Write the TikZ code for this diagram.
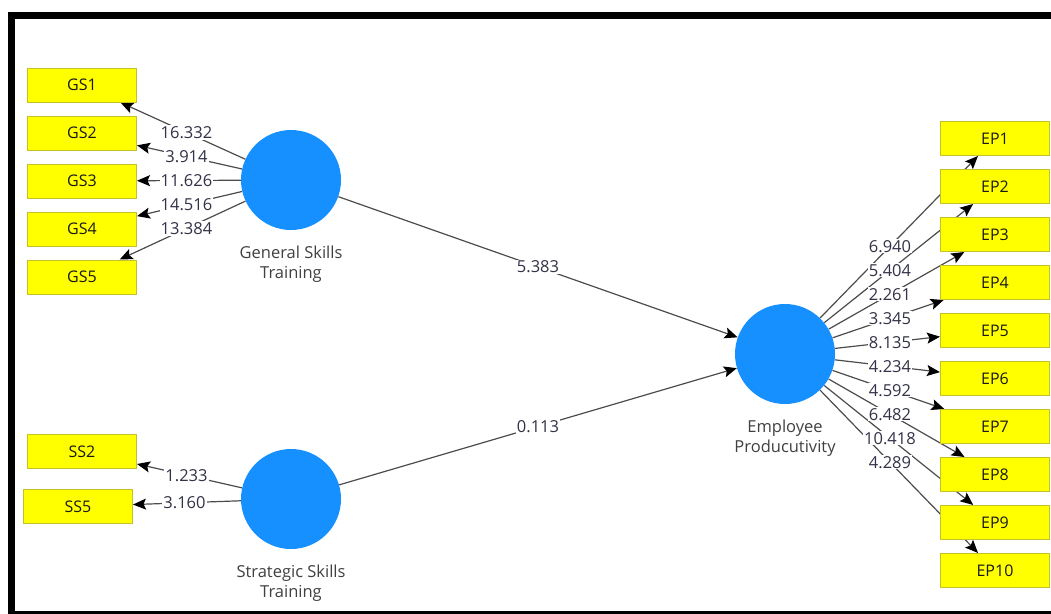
\documentclass[tikz,border=0pt]{standalone}
\usepackage{fontspec}
\setmainfont{Open Sans}
\usetikzlibrary{arrows.meta, backgrounds, calc}
\definecolor{latentblue}{RGB}{22,143,255}
\definecolor{itemyellow}{RGB}{255,255,0}
\definecolor{itemedge}{RGB}{195,195,40}
\definecolor{weighttext}{RGB}{50,50,72}

\begin{document}
\begin{tikzpicture}[x=1pt, y=-1pt,
    indicator/.style={draw=itemedge, fill=itemyellow, line width=1, minimum width=109, minimum height=34,
        inner sep=0, font=\fontsize{16}{19}\selectfont, text=black!90},
    construct/.style={circle, fill=latentblue, minimum size=100, inner sep=0},
    loading/.style={draw=black!70, line width=1.2, -{Stealth[length=13,width=11,inset=2.5,black]}},
    weight/.style={fill=white, inner sep=1, font=\fontsize{16.5}{19}\selectfont, text=weighttext},
    caption/.style={align=center, font=\fontsize{16.5}{20}\selectfont, text=black!75}]

        \useasboundingbox (0,0) rectangle (1051,613);
        \draw[line width=7] (11.5,15.5) rectangle (1070,614);

        \node[construct] (gst) at (291,180) {};
        \node[construct] (sst) at (291,499) {};
        \node[construct] (ep) at (785,354) {};

        \node[caption] (gstcap) at (291,264) {General Skills\\Training};
        \node[caption] (sstcap) at (291,583.5) {Strategic Skills\\Training};
        \node[caption] (epcap) at (785,438) {Employee\\Producutivity};

        \foreach \i in {1,...,5}
        \node[indicator] (gs\i) at (82,{85+48*(\i-1)}) {GS\i};

        \node[indicator] (ss2) at (82,451.5) {SS2};
        \node[indicator] (ss5) at (78,506.5) {SS5};

        \foreach \i in {1,...,10}
        \node[indicator] (ep\i) at (995,{138.5+48*(\i-1)}) {EP\i};

        \begin{pgfonlayer}{background}
        \foreach \i in {1,...,5}
        \draw[loading] (gst) -- (gs\i);
        \foreach \i in {2,5}
        \draw[loading] (sst) -- (ss\i);
        \foreach \i in {1,...,10}
        \draw[loading] (ep) -- (ep\i);
        \draw[loading] (gst) -- (ep);
        \draw[loading] (sst) -- (ep);
        \end{pgfonlayer}

        \foreach \i/\v in {1/16.332, 2/3.914, 3/11.626, 4/14.516, 5/13.384}
        \node[weight] at ($(gst)!0.5!(gs\i)$) {\v};
        \foreach \i/\v in {2/1.233, 5/3.160}
        \node[weight] at ($(sst)!0.5!(ss\i)$) {\v};
        \foreach \i/\v in {1/6.940, 2/5.404, 3/2.261, 4/3.345, 5/8.135, 6/4.234, 7/4.592, 8/6.482, 9/10.418, 10/4.289}
        \node[weight] at ($(ep)!0.5!(ep\i)$) {\v};
        \node[weight] at ($(gst)!0.5!(ep)$) {5.383};
        \node[weight] at ($(sst)!0.5!(ep)$) {0.113};
        \end{tikzpicture}
\end{document}
